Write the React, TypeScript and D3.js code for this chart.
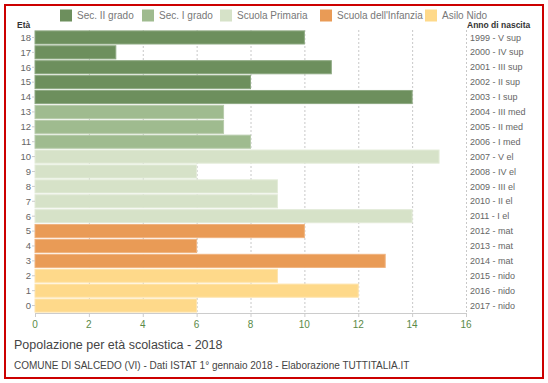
import React from "react";
import * as d3 from "d3";

const ages = [18, 17, 16, 15, 14, 13, 12, 11, 10, 9, 8, 7, 6, 5, 4, 3, 2, 1, 0];
const values = [10, 3, 11, 8, 14, 7, 7, 8, 15, 6, 9, 9, 14, 10, 6, 13, 9, 12, 6];
const birthLabels = [
  "1999 - V sup", "2000 - IV sup", "2001 - III sup", "2002 - II sup", "2003 - I sup",
  "2004 - III med", "2005 - II med", "2006 - I med",
  "2007 - V el", "2008 - IV el", "2009 - III el", "2010 - II el", "2011 - I el",
  "2012 - mat", "2013 - mat", "2014 - mat",
  "2015 - nido", "2016 - nido", "2017 - nido",
];
const groups = [4, 4, 4, 4, 4, 3, 3, 3, 2, 2, 2, 2, 2, 1, 1, 1, 0, 0, 0];
const seriesNames = ["Asilo Nido", "Scuola dell'Infanzia", "Scuola Primaria", "Sec. I grado", "Sec. II grado"];
const seriesColors = ["#fed98a", "#e99b56", "#d6e2c8", "#9fbb8f", "#6d8f5d"];
const strokeColors = ["#fee4ad", "#efb37f", "#e3ebd8", "#b7cbab", "#8ea982"];
const xTicks = [0, 2, 4, 6, 8, 10, 12, 14, 16];
const legendOrder = [4, 3, 2, 1, 0];

export default function App() {
  const W = 548, H = 383;
  const left = 35, right = 466, top = 30, bottom = 313;
  const x = d3.scaleLinear().domain([0, 16]).range([left, right]);
  const y = d3.scaleBand<number>().domain(ages).range([top, bottom]).paddingInner(0.12).paddingOuter(0.06);
  const font = "Arial, 'Liberation Sans', sans-serif";
  const legendX = [60, 142, 220, 320, 425];
  return (
    <svg width={W} height={H} style={{ position: "absolute", left: 0, top: 0, background: "#fff" }} fontFamily={font}>
      <rect x={5} y={5} width={538} height={373} fill="#fff" stroke="#c00" strokeWidth={2} />
      {legendOrder.map((si, i) => (
        <g key={si}>
          <rect x={legendX[i]} y={9.5} width={12} height={12} fill={seriesColors[si]} />
          <text x={legendX[i] + 17} y={15.5} dy="0.35em" fontSize={10} fill="#777">{seriesNames[si]}</text>
        </g>
      ))}
      {xTicks.slice(1).map((t) => (
        <line key={t} x1={x(t) + 0.5} x2={x(t) + 0.5} y1={top} y2={bottom} stroke="#c8c8c8" strokeDasharray="2,2" strokeWidth={1} />
      ))}
      {ages.map((a, i) => (
        <rect key={a} x={x(0)} y={y(a)} width={x(values[i]) - x(0)} height={y.bandwidth()}
          fill={seriesColors[groups[i]]} stroke={strokeColors[groups[i]]} strokeWidth={1} />
      ))}
      <line x1={left} x2={right} y1={bottom + 0.5} y2={bottom + 0.5} stroke="#ccc" />
      {xTicks.map((t) => (
        <g key={t}>
          <line x1={x(t) + 0.5} x2={x(t) + 0.5} y1={bottom} y2={bottom + 4} stroke="#ccc" />
          <text x={x(t)} y={324} dy="0.35em" textAnchor="middle" fontSize={10} fill="#5a8a48">{t}</text>
        </g>
      ))}
      {ages.map((a) => (
        <g key={a}>
          <line x1={left - 3} x2={left} y1={y(a)! + y.bandwidth() / 2} y2={y(a)! + y.bandwidth() / 2} stroke="#ccc" />
          <text x={31} y={y(a)! + y.bandwidth() / 2} dy="0.35em" textAnchor="end" fontSize={9.5} fill="#666">{a}</text>
        </g>
      ))}
      {ages.map((a, i) => (
        <text key={a} x={470} y={y(a)! + y.bandwidth() / 2} dy="0.35em" fontSize={9} fill="#666">{birthLabels[i]}</text>
      ))}
      <text x={17} y={28} fontSize={8.5} fontWeight="bold" fill="#333">Età</text>
      <text x={467} y={28} fontSize={8.5} fontWeight="bold" fill="#333">Anno di nascita</text>
      <text x={14} y={345} dy="0.35em" fontSize={12.5} fill="#444">Popolazione per età scolastica - 2018</text>
      <text x={14} y={365} dy="0.35em" fontSize={10} fill="#444">COMUNE DI SALCEDO (VI) - Dati ISTAT 1° gennaio 2018 - Elaborazione TUTTITALIA.IT</text>
    </svg>
  );
}
